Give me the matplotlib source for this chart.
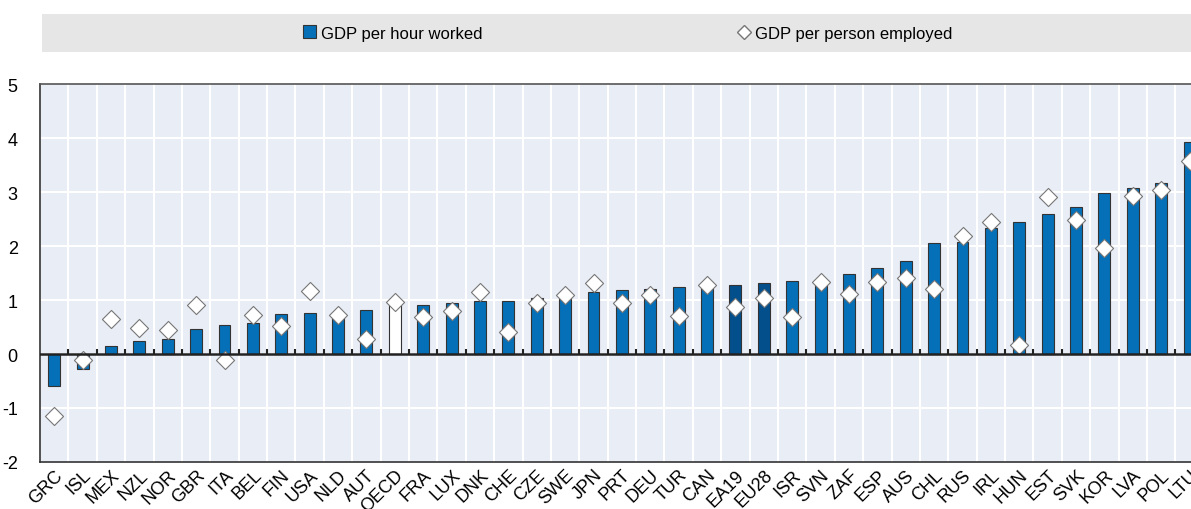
import numpy as np
import matplotlib
matplotlib.use('Agg')
from matplotlib import pyplot as plt
from matplotlib.patches import Rectangle
from matplotlib.lines import Line2D

plt.rcParams['font.family'] = ['Liberation Sans Narrow', 'Liberation Sans', 'DejaVu Sans']
plt.rcParams['axes.unicode_minus'] = False

countries = ['GRC', 'ISL', 'MEX', 'NZL', 'NOR', 'GBR', 'ITA', 'BEL', 'FIN', 'USA', 'NLD',
             'AUT', 'OECD', 'FRA', 'LUX', 'DNK', 'CHE', 'CZE', 'SWE', 'JPN', 'PRT', 'DEU',
             'TUR', 'CAN', 'EA19', 'EU28', 'ISR', 'SVN', 'ZAF', 'ESP', 'AUS', 'CHL', 'RUS',
             'IRL', 'HUN', 'EST', 'SVK', 'KOR', 'LVA', 'POL', 'LTU']
per_hour = [-0.60, -0.28, 0.14, 0.24, 0.28, 0.47, 0.54, 0.57, 0.74, 0.76, 0.73,
            0.81, 0.96, 0.90, 0.94, 0.99, 0.99, 1.04, 1.08, 1.15, 1.19, 1.20,
            1.24, 1.26, 1.27, 1.31, 1.35, 1.33, 1.48, 1.59, 1.72, 2.05, 2.07,
            2.33, 2.44, 2.59, 2.72, 2.98, 3.07, 3.17, 3.92]
per_person = [-1.14, -0.11, 0.64, 0.49, 0.44, 0.90, -0.11, 0.73, 0.52, 1.17, 0.73,
              0.27, 0.97, 0.69, 0.80, 1.15, 0.40, 0.94, 1.10, 1.31, 0.94, 1.10,
              0.70, 1.28, 0.87, 1.03, 0.69, 1.33, 1.11, 1.34, 1.41, 1.20, 2.19,
              2.44, 0.16, 2.90, 2.48, 1.96, 2.92, 3.03, 3.58]

blue = '#0570b8'
dark_blue = '#034f8c'
colors = []
for c in countries:
    if c == 'OECD':
        colors.append('white')
    elif c in ('EA19', 'EU28'):
        colors.append(dark_blue)
    else:
        colors.append(blue)

fig = plt.figure(figsize=(11.91, 5.10), dpi=100)
ax = fig.add_axes([40 / 1191, 1 - 463 / 510, 1 - 40 / 1191, 378 / 510])
ax.set_facecolor('#e9edf5')

x = np.arange(len(countries))
ax.bar(x, per_hour, width=0.42, color=colors, edgecolor='#333333', linewidth=0.8, zorder=3)
ax.scatter(x, per_person, marker='D', s=85, facecolor='white', edgecolor='#777777',
           linewidth=0.8, zorder=4)

ax.set_xlim(-0.5, 40.05)
ax.set_ylim(-2, 5)
ax.set_yticks(range(-2, 6))
ax.set_xticks(x)
ax.set_xticklabels(countries, rotation=45, ha='right', rotation_mode='anchor', fontsize=13)
ax.tick_params(axis='x', length=0, pad=3)
ax.tick_params(axis='y', length=0, pad=16, labelsize=13)

# white grid between categories
for b in np.arange(-0.5, len(countries), 1.0):
    ax.axvline(b, color='white', lw=1.5, zorder=1)
for v in range(-1, 5):
    ax.axhline(v, color='white', lw=1.5, zorder=1)
ax.axhline(0, color='#222222', lw=1.8, zorder=5)
ax.vlines(np.arange(0.5, len(countries), 1.0), 0, 0.09, color='#222222', lw=1.5, zorder=5)

for s in ['left', 'bottom', 'top']:
    ax.spines[s].set_color('#333333')
    ax.spines[s].set_linewidth(1.2)
ax.spines['top'].set_color('#555555')
ax.spines['right'].set_visible(False)

# legend band
fig.add_artist(Rectangle((42 / 1191, 1 - 53 / 510), 1149 / 1191, 38 / 510,
                         transform=fig.transFigure, facecolor='#e6e6e6', edgecolor='none'))
bar_handle = Rectangle((0, 0), 1, 1, facecolor=blue, edgecolor='#333333', linewidth=0.8)
dot_handle = Line2D([], [], marker='D', linestyle='none', markersize=7,
                    markerfacecolor='white', markeredgecolor='#777777')
y_leg = 1 - 34 / 510
leg1 = fig.legend([bar_handle], ['GDP per hour worked'], loc='center left',
                  bbox_to_anchor=(303 / 1191, y_leg), frameon=False, fontsize=12,
                  handlelength=0.8, handleheight=0.8, handletextpad=0.3,
                  borderpad=0, borderaxespad=0)
leg2 = fig.legend([dot_handle], ['GDP per person employed'], loc='center left',
                  bbox_to_anchor=(737 / 1191, y_leg), frameon=False, fontsize=12,
                  handlelength=0.8, handletextpad=0.3, borderpad=0, borderaxespad=0)

fig.savefig('out.png', dpi=100)
